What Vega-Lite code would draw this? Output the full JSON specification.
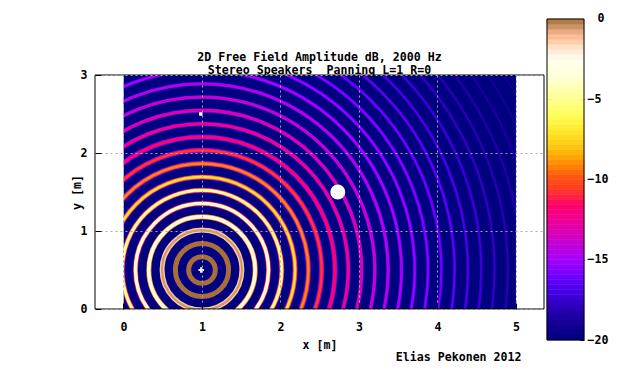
{"$schema":"https://vega.github.io/schema/vega-lite/v6.json","autosize":"none","width":449,"height":234,"padding":{"left":95,"top":75,"right":96,"bottom":75},"background":"white","config":{"view":{"stroke":null},"axis":{"labelFont":"DejaVu Sans Mono","labelFontWeight":"bold","labelFontSize":11.6,"labelColor":"black","titleFont":"DejaVu Sans Mono","titleFontWeight":"bold","titleFontSize":11.6,"titleColor":"black"}},"title":{"text":["2D Free Field Amplitude dB, 2000 Hz","Stereo Speakers\u00a0 Panning L=1 R=0"],"font":"DejaVu Sans Mono","fontWeight":"bold","fontSize":11.6,"lineHeight":13,"color":"black","anchor":"middle","frame":"group","offset":-64},"datasets":{"rings":[{"cx":1,"cy":0.5,"r":0.17,"edge":0,"mid":0,"core":0},{"cx":1,"cy":0.5,"r":0.34,"edge":0,"mid":0,"core":0},{"cx":1,"cy":0.5,"r":0.51,"edge":-1,"mid":-1.5,"core":-0.5},{"cx":1,"cy":0.5,"r":0.68,"edge":-9,"mid":-3,"core":-2.3},{"cx":1,"cy":0.5,"r":0.85,"edge":-12,"mid":-5,"core":-3.2},{"cx":1,"cy":0.5,"r":1.02,"edge":-13,"mid":-7,"core":-4.5},{"cx":1,"cy":0.5,"r":1.19,"edge":-14,"mid":-9,"core":-7},{"cx":1,"cy":0.5,"r":1.36,"edge":-15,"mid":-10.5,"core":-9},{"cx":1,"cy":0.5,"r":1.53,"edge":-15.5,"mid":-11.5,"core":-10.5},{"cx":1,"cy":0.5,"r":1.7,"edge":-16,"mid":-12.5,"core":-11.5},{"cx":1,"cy":0.5,"r":1.87,"edge":-18,"mid":-13.5,"core":-12.3},{"cx":1,"cy":0.5,"r":2.04,"edge":-19,"mid":-14.2,"core":-13},{"cx":1,"cy":0.5,"r":2.21,"edge":-20,"mid":-15,"core":-13.7},{"cx":1,"cy":0.5,"r":2.38,"edge":-20,"mid":-15.6,"core":-14.3},{"cx":1,"cy":0.5,"r":2.55,"edge":-20,"mid":-16.2,"core":-14.8},{"cx":1,"cy":0.5,"r":2.72,"edge":-20,"mid":-16.8,"core":-15.2},{"cx":1,"cy":0.5,"r":2.89,"edge":-20,"mid":-17.3,"core":-15.6},{"cx":1,"cy":0.5,"r":3.06,"edge":-20,"mid":-17.8,"core":-16},{"cx":1,"cy":0.5,"r":3.23,"edge":-20,"mid":-18.2,"core":-16.4},{"cx":1,"cy":0.5,"r":3.4,"edge":-20,"mid":-18.6,"core":-16.9},{"cx":1,"cy":0.5,"r":3.57,"edge":-20,"mid":-18.9,"core":-17.3},{"cx":1,"cy":0.5,"r":3.74,"edge":-20,"mid":-19.2,"core":-17.7},{"cx":1,"cy":0.5,"r":3.91,"edge":-20,"mid":-19.4,"core":-18.1},{"cx":1,"cy":0.5,"r":4.08,"edge":-20,"mid":-19.5,"core":-18.5},{"cx":1,"cy":0.5,"r":4.25,"edge":-20,"mid":-19.7,"core":-18.8},{"cx":1,"cy":0.5,"r":4.42,"edge":-20,"mid":-19.8,"core":-19.1},{"cx":1,"cy":0.5,"r":4.59,"edge":-20,"mid":-19.9,"core":-19.4}],"bands":[{"lo":-20,"hi":-19.6875,"mid":-19.84},{"lo":-19.6875,"hi":-19.375,"mid":-19.53},{"lo":-19.375,"hi":-19.0625,"mid":-19.22},{"lo":-19.0625,"hi":-18.75,"mid":-18.91},{"lo":-18.75,"hi":-18.4375,"mid":-18.59},{"lo":-18.4375,"hi":-18.125,"mid":-18.28},{"lo":-18.125,"hi":-17.8125,"mid":-17.97},{"lo":-17.8125,"hi":-17.5,"mid":-17.66},{"lo":-17.5,"hi":-17.1875,"mid":-17.34},{"lo":-17.1875,"hi":-16.875,"mid":-17.03},{"lo":-16.875,"hi":-16.5625,"mid":-16.72},{"lo":-16.5625,"hi":-16.25,"mid":-16.41},{"lo":-16.25,"hi":-15.9375,"mid":-16.09},{"lo":-15.9375,"hi":-15.625,"mid":-15.78},{"lo":-15.625,"hi":-15.3125,"mid":-15.47},{"lo":-15.3125,"hi":-15,"mid":-15.16},{"lo":-15,"hi":-14.6875,"mid":-14.84},{"lo":-14.6875,"hi":-14.375,"mid":-14.53},{"lo":-14.375,"hi":-14.0625,"mid":-14.22},{"lo":-14.0625,"hi":-13.75,"mid":-13.91},{"lo":-13.75,"hi":-13.4375,"mid":-13.59},{"lo":-13.4375,"hi":-13.125,"mid":-13.28},{"lo":-13.125,"hi":-12.8125,"mid":-12.97},{"lo":-12.8125,"hi":-12.5,"mid":-12.66},{"lo":-12.5,"hi":-12.1875,"mid":-12.34},{"lo":-12.1875,"hi":-11.875,"mid":-12.03},{"lo":-11.875,"hi":-11.5625,"mid":-11.72},{"lo":-11.5625,"hi":-11.25,"mid":-11.41},{"lo":-11.25,"hi":-10.9375,"mid":-11.09},{"lo":-10.9375,"hi":-10.625,"mid":-10.78},{"lo":-10.625,"hi":-10.3125,"mid":-10.47},{"lo":-10.3125,"hi":-10,"mid":-10.16},{"lo":-10,"hi":-9.6875,"mid":-9.84},{"lo":-9.6875,"hi":-9.375,"mid":-9.53},{"lo":-9.375,"hi":-9.0625,"mid":-9.22},{"lo":-9.0625,"hi":-8.75,"mid":-8.91},{"lo":-8.75,"hi":-8.4375,"mid":-8.59},{"lo":-8.4375,"hi":-8.125,"mid":-8.28},{"lo":-8.125,"hi":-7.8125,"mid":-7.97},{"lo":-7.8125,"hi":-7.5,"mid":-7.66},{"lo":-7.5,"hi":-7.1875,"mid":-7.34},{"lo":-7.1875,"hi":-6.875,"mid":-7.03},{"lo":-6.875,"hi":-6.5625,"mid":-6.72},{"lo":-6.5625,"hi":-6.25,"mid":-6.41},{"lo":-6.25,"hi":-5.9375,"mid":-6.09},{"lo":-5.9375,"hi":-5.625,"mid":-5.78},{"lo":-5.625,"hi":-5.3125,"mid":-5.47},{"lo":-5.3125,"hi":-5,"mid":-5.16},{"lo":-5,"hi":-4.6875,"mid":-4.84},{"lo":-4.6875,"hi":-4.375,"mid":-4.53},{"lo":-4.375,"hi":-4.0625,"mid":-4.22},{"lo":-4.0625,"hi":-3.75,"mid":-3.91},{"lo":-3.75,"hi":-3.4375,"mid":-3.59},{"lo":-3.4375,"hi":-3.125,"mid":-3.28},{"lo":-3.125,"hi":-2.8125,"mid":-2.97},{"lo":-2.8125,"hi":-2.5,"mid":-2.66},{"lo":-2.5,"hi":-2.1875,"mid":-2.34},{"lo":-2.1875,"hi":-1.875,"mid":-2.03},{"lo":-1.875,"hi":-1.5625,"mid":-1.72},{"lo":-1.5625,"hi":-1.25,"mid":-1.41},{"lo":-1.25,"hi":-0.9375,"mid":-1.09},{"lo":-0.9375,"hi":-0.625,"mid":-0.78},{"lo":-0.625,"hi":-0.3125,"mid":-0.47},{"lo":-0.3125,"hi":0,"mid":-0.16}]},"resolve":{"scale":{"x":"independent","y":"independent","color":"shared"},"axis":{"x":"independent","y":"independent"}},"layer":[{"layer":[{"data":{"values":[{"x0":0,"x1":5,"y0":0,"y1":3}]},"mark":{"type":"rect","color":"#000080"},"encoding":{"x":{"field":"x0","type":"quantitative","scale":{"domain":[-0.363,5.357],"nice":false,"zero":false},"axis":{"values":[0,1,2,3,4,5],"format":"d","grid":true,"gridColor":"#a8a8a8","gridDash":[2,3],"gridOpacity":1,"domain":false,"tickColor":"black","tickSize":-6,"labelPadding":18,"title":"x [m]","titlePadding":7,"zindex":1}},"x2":{"field":"x1"},"y":{"field":"y0","type":"quantitative","scale":{"domain":[0,3],"nice":false,"zero":false},"axis":{"values":[0,1,2,3],"format":"d","grid":true,"gridColor":"#a8a8a8","gridDash":[2,3],"gridOpacity":1,"domain":false,"tickColor":"black","tickSize":-6,"labelPadding":14,"title":"y [m]","titlePadding":-2,"zindex":1}},"y2":{"field":"y1"}}},{"data":{"name":"rings"},"mark":{"type":"point","shape":"circle","filled":false,"clip":true,"opacity":1,"strokeWidth":5},"encoding":{"x":{"field":"cx","type":"quantitative"},"y":{"field":"cy","type":"quantitative"},"size":{"field":"r","type":"quantitative","legend":null,"scale":{"type":"pow","exponent":2,"domain":[0,5],"range":[0,612000]}},"color":{"field":"edge","type":"quantitative"}}},{"data":{"name":"rings"},"mark":{"type":"point","shape":"circle","filled":false,"clip":true,"opacity":1,"strokeWidth":3.6},"encoding":{"x":{"field":"cx","type":"quantitative"},"y":{"field":"cy","type":"quantitative"},"size":{"field":"r","type":"quantitative","legend":null,"scale":{"type":"pow","exponent":2,"domain":[0,5],"range":[0,612000]}},"color":{"field":"mid","type":"quantitative"}}},{"data":{"name":"rings"},"mark":{"type":"point","shape":"circle","filled":false,"clip":true,"opacity":1,"strokeWidth":2.2},"encoding":{"x":{"field":"cx","type":"quantitative"},"y":{"field":"cy","type":"quantitative"},"size":{"field":"r","type":"quantitative","legend":null,"scale":{"type":"pow","exponent":2,"domain":[0,5],"range":[0,612000]}},"color":{"field":"core","type":"quantitative","legend":null,"scale":{"domain":[-20,-19.2,-18.1,-17.1,-16.1,-15.1,-14,-13,-12,-11.2,-10.6,-9.7,-9,-8,-7,-6,-5,-3.55,-2.5,-2.1,-1.8,-1.15,-0.7,-0.35,0],"range":["#000080","#100090","#2800b0","#4000e0","#6800ff","#a000ff","#c000d8","#e000a8","#f80080","#ff1a50","#ff3a20","#ff5a10","#ff8c08","#ffc414","#ffe62a","#ffff55","#ffff90","#ffffd8","#fffff0","#fff0dc","#ffe4c8","#ffbf9a","#e0a880","#c08a58","#a86e3c"]}}}},{"data":{"values":[{"a":-0.363,"b":0,"lo":0,"hi":3},{"a":5,"b":5.357,"lo":0,"hi":3}]},"mark":{"type":"rect","color":"white"},"encoding":{"x":{"field":"a","type":"quantitative"},"x2":{"field":"b"},"y":{"field":"lo","type":"quantitative"},"y2":{"field":"hi"}}},{"data":{"values":[{"sx":2.73,"sy":1.5,"kind":"right speaker"}]},"mark":{"type":"point","shape":"circle","filled":true,"color":"white","opacity":1,"size":225},"encoding":{"x":{"field":"sx","type":"quantitative"},"y":{"field":"sy","type":"quantitative"}}},{"data":{"values":[{"sx":0.985,"sy":2.5,"kind":"mark"}]},"mark":{"type":"point","shape":"square","filled":true,"color":"white","opacity":1,"size":12},"encoding":{"x":{"field":"sx","type":"quantitative"},"y":{"field":"sy","type":"quantitative"}}},{"data":{"values":[{"sx":0.99,"sy":0.5,"kind":"left speaker"}]},"mark":{"type":"point","shape":"cross","filled":true,"color":"white","opacity":1,"size":30},"encoding":{"x":{"field":"sx","type":"quantitative"},"y":{"field":"sy","type":"quantitative"}}},{"data":{"values":[{"a":-0.363,"b":5.357,"lo":0,"hi":3}]},"mark":{"type":"rect","fill":null,"stroke":"black","strokeWidth":1,"clip":false},"encoding":{"x":{"field":"a","type":"quantitative"},"x2":{"field":"b"},"y":{"field":"lo","type":"quantitative"},"y2":{"field":"hi"}}},{"data":{"values":[{"tx":4.27,"ty":-0.628,"label":"Elias Pekonen 2012"}]},"mark":{"type":"text","font":"DejaVu Sans Mono","fontWeight":"bold","fontSize":11.6,"color":"black","align":"center","baseline":"middle","clip":false},"encoding":{"x":{"field":"tx","type":"quantitative"},"y":{"field":"ty","type":"quantitative"},"text":{"field":"label"}}}]},{"data":{"name":"bands"},"mark":{"type":"rect","clip":false,"strokeWidth":0.6},"encoding":{"x":{"datum":0,"type":"quantitative","scale":{"domain":[0,1],"range":[452,489]},"axis":null},"x2":{"datum":1},"y":{"field":"lo","type":"quantitative","scale":{"domain":[-20,0],"range":[265,-56],"nice":false,"zero":false},"axis":{"orient":"right","offset":40,"values":[-20,-15,-10,-5],"domain":false,"grid":false,"tickColor":"black","tickSize":-4,"labelPadding":7,"labelAlign":"left","labelBaseline":"middle","title":null}},"y2":{"field":"hi"},"color":{"field":"mid","type":"quantitative"},"stroke":{"field":"mid","type":"quantitative","legend":null,"scale":{"domain":[-20,-19.2,-18.1,-17.1,-16.1,-15.1,-14,-13,-12,-11.2,-10.6,-9.7,-9,-8,-7,-6,-5,-3.55,-2.5,-2.1,-1.8,-1.15,-0.7,-0.35,0],"range":["#000080","#100090","#2800b0","#4000e0","#6800ff","#a000ff","#c000d8","#e000a8","#f80080","#ff1a50","#ff3a20","#ff5a10","#ff8c08","#ffc414","#ffe62a","#ffff55","#ffff90","#ffffd8","#fffff0","#fff0dc","#ffe4c8","#ffbf9a","#e0a880","#c08a58","#a86e3c"]}}}},{"data":{"values":[{"lo":-20,"hi":0}]},"mark":{"type":"rect","fill":null,"stroke":"black","strokeWidth":1,"clip":false},"encoding":{"x":{"datum":0,"type":"quantitative","scale":{"domain":[0,1],"range":[452,489]},"axis":null},"x2":{"datum":1},"y":{"field":"lo","type":"quantitative","scale":{"domain":[-20,0],"range":[265,-56],"nice":false,"zero":false},"axis":{"orient":"left","offset":-452,"values":[-15,-10,-5],"domain":false,"grid":false,"labels":false,"tickColor":"black","tickSize":-4,"title":null}},"y2":{"field":"hi"}}},{"data":{"values":[{"level":0,"pos":1.46,"label":"0"}]},"mark":{"type":"text","font":"DejaVu Sans Mono","fontWeight":"bold","fontSize":11.6,"color":"black","align":"center","baseline":"middle","clip":false},"encoding":{"x":{"field":"pos","type":"quantitative","scale":{"domain":[0,1],"range":[452,489]},"axis":null},"y":{"field":"level","type":"quantitative","scale":{"domain":[-20,0],"range":[265,-56],"nice":false,"zero":false},"axis":null},"text":{"field":"label"}}}]}
